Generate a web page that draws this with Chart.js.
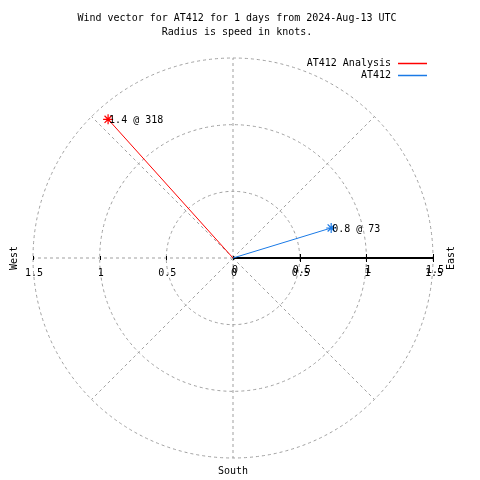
<!DOCTYPE html>
<html>
<head>
<meta charset="utf-8">
<script src="https://cdn.jsdelivr.net/npm/chart.js@4/dist/chart.umd.min.js"></script>
<style>
  body { margin: 0; background: #fff; }
  canvas { display: block; }
</style>
</head>
<body>
<canvas id="windChart" width="480" height="480"></canvas>
<script>
// wind vector data (speed in knots, direction in compass degrees)
const seriesNames = ['AT412 Analysis', 'AT412'];
const speeds = [1.4, 0.77];
const directions = [318, 73];
const seriesColors = ['#ff0000', '#1a7ae6'];

const titleLines = ['Wind vector for AT412 for 1 days from 2024-Aug-13 UTC', 'Radius is speed in knots.'];
const ringValues = [0.5, 1, 1.5];
const tickValues = [-1.5, -1, -0.5, 0, 0.5, 1, 1.5];
const tickLabels = ['1.5', '1', '0.5', '0', '0.5', '1', '1.5'];
const spokeAngles = [0, 45, 90, 135, 180, 225, 270, 315];
const maxRadius = 1.5;

const FONT = '10px "DejaVu Sans Mono", monospace';
const GRID = '#a0a0a0';

function toXY(speed, dir) {
    const rad = dir * Math.PI / 180;
    return { x: speed * Math.sin(rad), y: speed * Math.cos(rad) };
}

const datasets = seriesNames.map((name, i) => ({
    label: name,
    data: [{ x: 0, y: 0 }, toXY(speeds[i], directions[i])],
    showLine: true,
    borderColor: seriesColors[i],
    backgroundColor: seriesColors[i],
    borderWidth: 1,
    pointStyle: 'star',
    pointRadius: [0, 5],
    pointBorderWidth: 1.2,
    pointBorderColor: seriesColors[i]
}));

// polar grid, axis, labels and legend drawn from the chart's own scales
const polarPlugin = {
    id: 'polarGrid',
    beforeDatasetsDraw(chart) {
        const ctx = chart.ctx;
        const xs = chart.scales.x, ys = chart.scales.y;
        const cx = xs.getPixelForValue(0), cy = ys.getPixelForValue(0);
        const rpx = v => xs.getPixelForValue(v) - cx;
        ctx.save();
        ctx.strokeStyle = GRID;
        ctx.lineWidth = 1;
        ctx.setLineDash([3, 3]);
        ringValues.forEach(v => {
            ctx.beginPath();
            ctx.arc(cx, cy, rpx(v), 0, Math.PI * 2);
            ctx.stroke();
        });
        spokeAngles.forEach(a => {
            if (a === 90) return;
            const p = toXY(maxRadius, a);
            ctx.beginPath();
            ctx.moveTo(cx, cy);
            ctx.lineTo(xs.getPixelForValue(p.x), ys.getPixelForValue(p.y));
            ctx.stroke();
        });
        ctx.setLineDash([]);
        // east half axis, solid
        ctx.strokeStyle = '#000';
        ctx.lineWidth = 2;
        ctx.beginPath();
        ctx.moveTo(cx, cy);
        ctx.lineTo(xs.getPixelForValue(maxRadius), cy);
        ctx.stroke();
        ctx.lineWidth = 1;
        tickValues.forEach(v => {
            const x = Math.round(xs.getPixelForValue(v)) + 0.5;
            const h = v > 0 ? 4 : 2;
            ctx.beginPath();
            ctx.moveTo(x, cy - h);
            ctx.lineTo(x, cy + h);
            ctx.stroke();
        });
        ctx.restore();
    },
    afterDatasetsDraw(chart) {
        const ctx = chart.ctx;
        const xs = chart.scales.x, ys = chart.scales.y;
        const cx = xs.getPixelForValue(0), cy = ys.getPixelForValue(0);
        ctx.save();
        ctx.font = FONT;
        ctx.fillStyle = '#000';
        ctx.textBaseline = 'middle';

        // title
        ctx.textAlign = 'center';
        ctx.fillText(titleLines[0], 237, 18);
        ctx.fillText(titleLines[1], 237, 32);

        // tick labels along the horizontal axis
        tickValues.forEach((v, i) => {
            const x = xs.getPixelForValue(v) + 1;
            ctx.fillText(tickLabels[i], x, cy + 15);
            if (v >= 0) ctx.fillText(tickLabels[i], x + 1, cy + 12);
        });

        // compass labels
        ctx.fillText('South', cx, ys.getPixelForValue(-maxRadius) + 13);
        [['West', 14], ['East', 451]].forEach(([t, x]) => {
            ctx.save();
            ctx.translate(x, cy);
            ctx.rotate(-Math.PI / 2);
            ctx.fillText(t, 0, 0);
            ctx.restore();
        });

        // vector end labels
        ctx.textAlign = 'left';
        seriesNames.forEach((n, i) => {
            const p = toXY(speeds[i], directions[i]);
            const label = speeds[i].toFixed(1) + ' @ ' + directions[i];
            ctx.fillText(label, xs.getPixelForValue(p.x) + 1, ys.getPixelForValue(p.y) + 1);
        });

        // legend
        ctx.textAlign = 'right';
        seriesNames.forEach((n, i) => {
            const y = 63 + i * 12;
            ctx.fillStyle = '#000';
            ctx.fillText(n, 391, y);
            ctx.strokeStyle = seriesColors[i];
            ctx.lineWidth = 1.5;
            ctx.beginPath();
            ctx.moveTo(398, y + 0.5);
            ctx.lineTo(427, y + 0.5);
            ctx.stroke();
        });
        ctx.restore();
    }
};

new Chart(document.getElementById('windChart'), {
    type: 'scatter',
    data: { datasets },
    options: {
        responsive: false,
        animation: false,
        events: [],
        layout: { padding: { left: 33, right: 47, top: 58, bottom: 22 } },
        scales: {
            x: { type: 'linear', min: -maxRadius, max: maxRadius, display: false },
            y: { type: 'linear', min: -maxRadius, max: maxRadius, display: false }
        },
        plugins: {
            legend: { display: false },
            title: { display: false },
            tooltip: { enabled: false }
        }
    },
    plugins: [polarPlugin]
});
</script>
</body>
</html>
